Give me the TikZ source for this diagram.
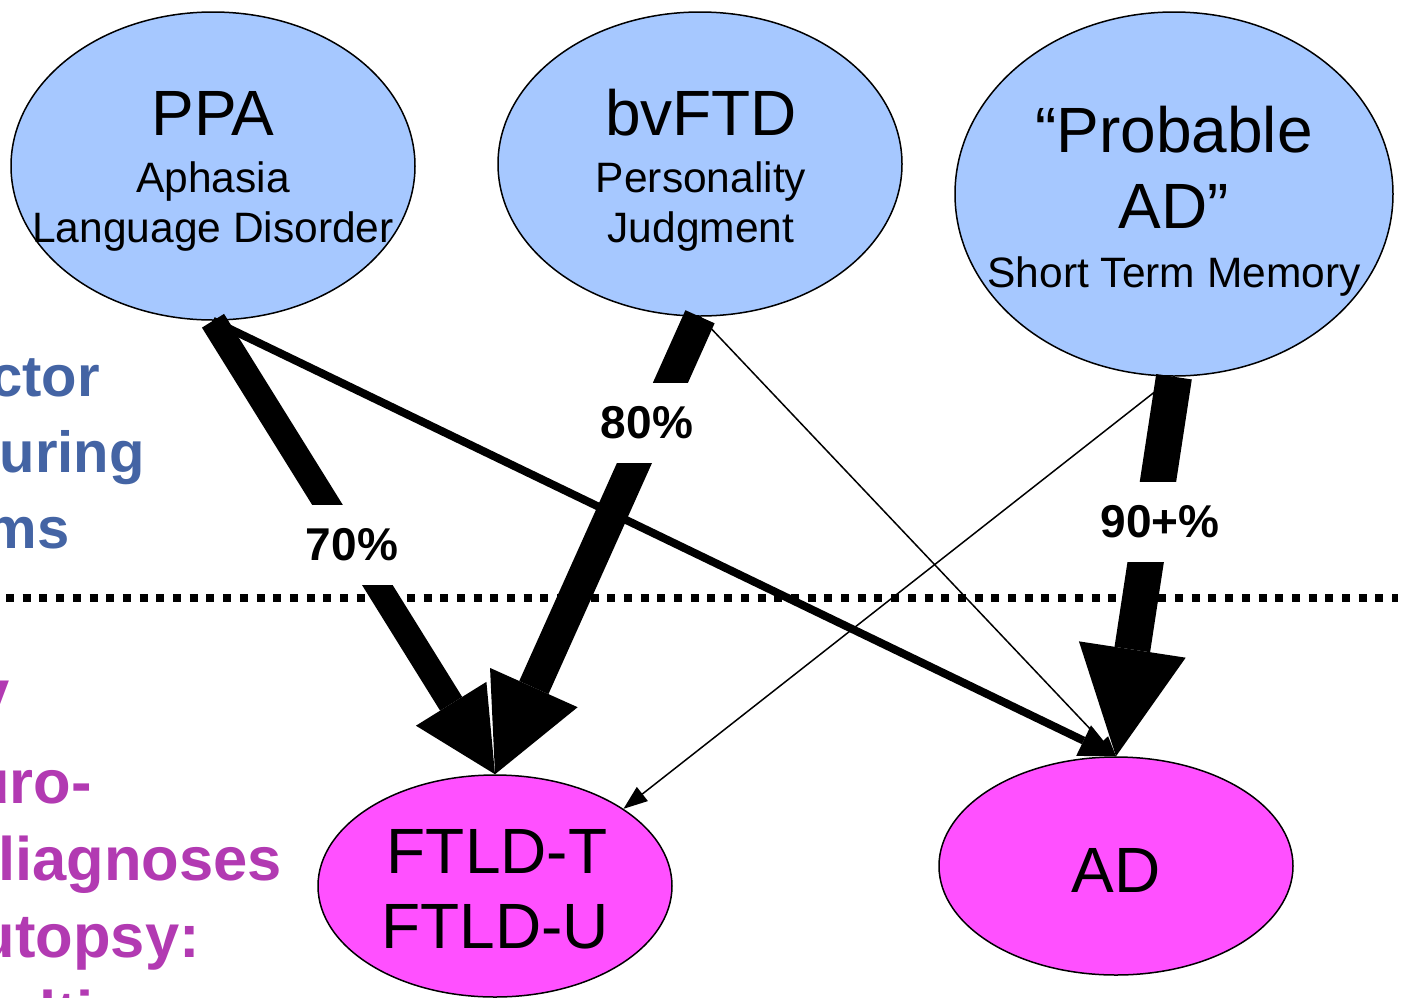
\documentclass[tikz,border=0pt]{standalone}
\usepackage{fontspec}
\setmainfont{Liberation Sans}
\usetikzlibrary{shapes.geometric,calc}
\definecolor{ellblue}{RGB}{166,200,255}
\definecolor{ellmag}{RGB}{255,80,255}
\definecolor{txtblue}{RGB}{68,100,164}
\definecolor{txtmag}{RGB}{178,58,178}
% #1 start, #2 tip, #3 shaft width, #4 head length, #5 half head width
\newcommand\blkarrow[5]{%
  \coordinate (hb) at ($(#2)!#4!(#1)$);
  \draw[line width=#3] (#1) -- (hb);
  \fill (#2) -- ($(hb)!#5!90:(#2)$) -- ($(hb)!#5!-90:(#2)$) -- cycle;
}
\begin{document}
\begin{tikzpicture}[x=1pt,y=-1pt,
  ell/.style={ellipse, draw=black, line width=1.5pt, inner sep=0pt},
  blueell/.style={ell, fill=ellblue},
  magell/.style={ell, fill=ellmag},
  big/.style={font=\fontsize{64}{64}\selectfont, anchor=base, inner sep=0pt},
  small/.style={font=\fontsize{42.5}{42.5}\selectfont, anchor=base, inner sep=0pt},
  pct/.style={font=\fontsize{46}{46}\selectfont\bfseries, fill=white, inner xsep=6pt, minimum height=80pt},
  sideblue/.style={font=\fontsize{58}{58}\selectfont\bfseries, anchor=base east, inner sep=0pt, text=txtblue},
  sidemag/.style={font=\fontsize{61.5}{61.5}\selectfont\bfseries, anchor=base east, inner sep=0pt, text=txtmag},
  dotline/.style={line width=8pt, dash pattern=on 8pt off 8.7pt},
]
\useasboundingbox (0,0) rectangle (1401,997);

% left side texts (clipped)
\begin{scope}
\clip (0,0) rectangle (1401,997);
\node[sideblue] (s1) at (100,396) {ctor};
\node[sideblue] (s2) at (145,472) {uring};
\node[sideblue] (s3) at (70,548) {ms};
\node[sidemag] (s4) at (10,713) {y};
\node[sidemag] (s5) at (92,803) {uro-};
\node[sidemag] (s6) at (282,880) {liagnoses};
\node[sidemag] (s7) at (200,957) {utopsy:};
\node[sidemag] (s8) at (94,1034) {ulti};
\end{scope}

% ellipses
\node[blueell, minimum width=404pt, minimum height=308pt] (ppa) at (213,166) {};
\node[blueell, minimum width=404pt, minimum height=304pt] (bvftd) at (700,164) {};
\node[blueell, minimum width=438pt, minimum height=364pt] (pad) at (1174,194) {};
\node[magell, minimum width=354pt, minimum height=222pt] (ftld) at (495,886) {};
\node[magell, minimum width=354pt, minimum height=218pt] (ad) at (1116,866) {};

% ellipse texts
\node[big] (ppaT) at (213,135) {PPA};
\node[small] (ppaA) at (213,192) {Aphasia};
\node[small] (ppaL) at (213,242) {Language Disorder};
\node[big] (bvT) at (701,135) {bvFTD};
\node[small] (bvP) at (701,192) {Personality};
\node[small] (bvJ) at (701,242) {Judgment};
\node[big] (padT) at (1174,152) {“Probable};
\node[big] (padA) at (1174,228) {AD”};
\node[small] (padS) at (1174,287) {Short Term Memory};
\node[big] (ftT) at (497,873) {FTLD-T};
\node[big] (ftU) at (495,948) {FTLD-U};
\node[big] (adT) at (1116,892) {AD};

% dotted separator
\coordinate (dl) at (6,598);
\coordinate (dr) at (1398,598);
\draw[dotline] (dl) -- (dr);

% arrows
\blkarrow{bvftd.south}{ad.north}{1.5pt}{20pt}{8pt}
\blkarrow{pad.south}{ftld.31}{1.5pt}{24pt}{9pt}
\blkarrow{ppa.south}{ad.north}{8pt}{36pt}{17pt}
\blkarrow{ppa.south}{ftld.north}{26pt}{83pt}{41.5pt}
\blkarrow{bvftd.south}{ftld.north}{32pt}{95pt}{48pt}
\blkarrow{pad.south}{ad.north}{36pt}{108pt}{54pt}

% percentage labels
\node[pct] (p70) at (352,545) {70\%};
\node[pct] (p80) at (647,423) {80\%};
\node[pct] (p90) at (1160,522) {90+\%};
\end{tikzpicture}
\end{document}
